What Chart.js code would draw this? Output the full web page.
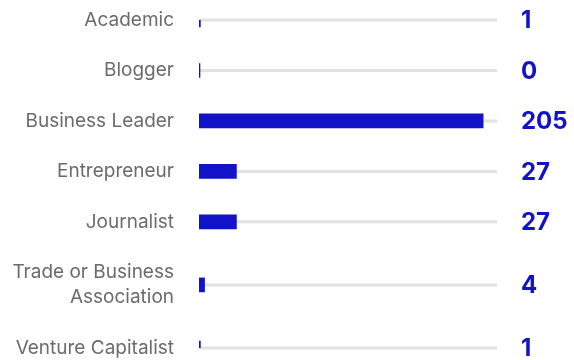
<!DOCTYPE html>
<html>
<head>
<meta charset="utf-8">
<script src="https://cdn.jsdelivr.net/npm/chart.js@4"></script>
<style>
  html, body { margin: 0; padding: 0; background: #fff; }
  #wrap { width: 574px; height: 360px; }
</style>
</head>
<body>
<div id="wrap"><canvas id="chart"></canvas></div>
<script>
// --- Data ---
const categories = [
  "Academic",
  "Blogger",
  "Business Leader",
  "Entrepreneur",
  "Journalist",
  ["Trade or Business", "Association"],
  "Venture Capitalist"
];
const counts = [1, 0, 205, 27, 27, 4, 1];

const barColor = "#1212c8";
const trackColor = "#e2e2e2";
const labelColor = "#6b6b6b";

// category scale where rows with wrapped labels get a bit more room
class RowScale extends Chart.CategoryScale {
  static id = "rows";
  rowWeights() {
    return this.getLabels().map(l => Array.isArray(l) ? 1 + 0.5 * (l.length - 1) : 1);
  }
  getPixelForValue(value) {
    if (typeof value !== "number") value = this.parse(value);
    if (value === null || value === undefined) return NaN;
    const w = this.rowWeights();
    const pos = [0];
    for (let i = 1; i < w.length; i++) pos.push(pos[i - 1] + (w[i - 1] + w[i]) / 2);
    const total = pos[pos.length - 1] || 1;
    const i = Math.max(0, Math.min(w.length - 1, Math.round(value)));
    return this.getPixelForDecimal(pos[i] / total);
  }
}
Chart.register(RowScale);

// gray track behind each bar, full width of the plot area
const trackPlugin = {
  id: "track",
  beforeDatasetsDraw(chart) {
    const { ctx, chartArea } = chart;
    const meta = chart.getDatasetMeta(0);
    ctx.save();
    ctx.strokeStyle = trackColor;
    ctx.lineWidth = 3;
    meta.data.forEach(bar => {
      ctx.beginPath();
      ctx.moveTo(chartArea.left, bar.y);
      ctx.lineTo(chartArea.right, bar.y);
      ctx.stroke();
    });
    ctx.restore();
  }
};

// value printed to the right of each track
const valuePlugin = {
  id: "values",
  afterDatasetsDraw(chart) {
    const { ctx, chartArea } = chart;
    const meta = chart.getDatasetMeta(0);
    ctx.save();
    ctx.fillStyle = barColor;
    ctx.font = "bold 24px Inter, 'Liberation Sans', sans-serif";
    ctx.textAlign = "left";
    ctx.textBaseline = "middle";
    meta.data.forEach((bar, i) => {
      ctx.fillText(String(counts[i]), chartArea.right + 24, bar.y + 1);
    });
    ctx.restore();
  }
};

new Chart(document.getElementById("chart"), {
  type: "bar",
  data: {
    labels: categories,
    datasets: [{
      data: counts,
      backgroundColor: barColor,
      barThickness: 14,
      minBarLength: 1
    }]
  },
  options: {
    indexAxis: "y",
    responsive: true,
    maintainAspectRatio: false,
    animation: false,
    layout: { padding: { top: 20, right: 77, bottom: 12, left: 0 } },
    plugins: {
      legend: { display: false },
      tooltip: { enabled: false }
    },
    scales: {
      x: {
        display: false,
        min: 0,
        max: 215
      },
      y: {
        type: "rows",
        offset: false,
        grid: { display: false, drawTicks: false },
        border: { display: false },
        ticks: {
          autoSkip: false,
          color: labelColor,
          padding: 25,
          font: { family: "Inter, 'Liberation Sans', sans-serif", size: 19, lineHeight: 1.35 }
        },
        // fixed label column; first and last rows sit right on the padding edge
        afterFit(scale) {
          scale.width = 199;
          scale.paddingTop = 0;
          scale.paddingBottom = 0;
        }
      }
    }
  },
  plugins: [trackPlugin, valuePlugin]
});
</script>
</body>
</html>
